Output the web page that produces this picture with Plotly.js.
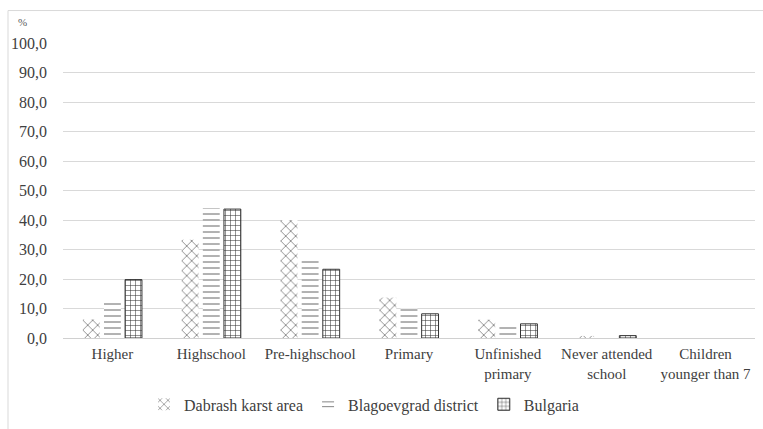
<!DOCTYPE html>
<html>
<head>
<meta charset="utf-8">
<script src="https://cdn.plot.ly/plotly-3.0.1.min.js"></script>
<style>html,body{margin:0;padding:0;background:#fff;}#chart{width:763px;height:429px;}</style>
</head>
<body>
<div id="chart"></div>
<script>
var categories = ["Higher", "Highschool", "Pre-highschool", "Primary", "Unfinished<br>primary", "Never attended<br>school", "Children<br>younger than 7"];
var dabrash = [6.3, 33.3, 40.0, 13.7, 6.2, 0.7, 0.0];
var blagoevgrad = [13.0, 44.0, 26.7, 10.0, 4.6, 0.5, 0.0];
var bulgaria = [19.8, 43.7, 23.3, 8.2, 4.8, 0.8, 0.0];
var seriesNames = ["Dabrash karst area", "Blagoevgrad district", "Bulgaria"];

var serif = "Liberation Serif";

var traces = [
  {type: "bar", name: seriesNames[0], x: categories, y: dabrash,
   marker: {color: "#ffffff", line: {width: 0},
            pattern: {shape: "x", fgcolor: "#3a3a3a", bgcolor: "#ffffff", size: 7, solidity: 0.15}}},
  {type: "bar", name: seriesNames[1], x: categories, y: blagoevgrad,
   marker: {color: "#ffffff", line: {width: 0},
            pattern: {shape: "-", fgcolor: "#555555", bgcolor: "#ffffff", size: 6, solidity: 0.15}}},
  {type: "bar", name: seriesNames[2], x: categories, y: bulgaria,
   marker: {color: "#ffffff",
            line: {width: bulgaria.map(function (v) { return v > 0 ? 1 : 0; }), color: "#333333"},
            pattern: {shape: "+", fgcolor: "#333333", bgcolor: "#ffffff", size: 5, solidity: 0.2}}}
];

var layout = {
  width: 763, height: 429,
  margin: {l: 63, r: 8, t: 43, b: 86},
  paper_bgcolor: "#ffffff", plot_bgcolor: "#ffffff",
  separators: ", ",
  barmode: "group",
  bargap: 0.36,
  bargroupgap: 0.2,
  showlegend: true,
  font: {family: serif, color: "#404040", size: 15},
  xaxis: {
    type: "category",
    showgrid: false, zeroline: false, showline: false,
    tickfont: {family: serif, size: 15, color: "#404040"},
    ticklabelstandoff: 5,
    ticks: "", fixedrange: true
  },
  yaxis: {
    range: [0, 100], dtick: 10, tick0: 0,
    tickformat: ".1f",
    showgrid: true, gridcolor: "#d9d9d9", gridwidth: 1,
    zeroline: true, zerolinecolor: "#d0d0d0", zerolinewidth: 1,
    showline: false, ticks: "",
    ticklabelstandoff: 15,
    tickfont: {family: serif, size: 16, color: "#404040"},
    fixedrange: true
  },
  legend: {
    orientation: "h", x: (364 - 63) / 692, xanchor: "center", y: -0.225, yanchor: "middle",
    font: {family: serif, size: 16, color: "#404040"},
    itemwidth: 30, traceorder: "normal"
  },
  annotations: [
    {text: "%", xref: "paper", yref: "paper", x: (22 - 63) / 692, y: (343 - 22) / 300,
     xanchor: "center", yanchor: "middle", showarrow: false,
     font: {family: serif, size: 11, color: "#595959"}}
  ],
  shapes: [
    {type: "rect", xref: "paper", yref: "paper",
     x0: (8 - 63) / 692, x1: (775 - 63) / 692, y0: (343 - 440) / 300, y1: (343 - 10) / 300,
     line: {color: "#d9d9d9", width: 1}, fillcolor: "rgba(0,0,0,0)", layer: "below"}
  ]
};

Plotly.newPlot("chart", traces, layout, {displayModeBar: false, staticPlot: true});
</script>
</body>
</html>
